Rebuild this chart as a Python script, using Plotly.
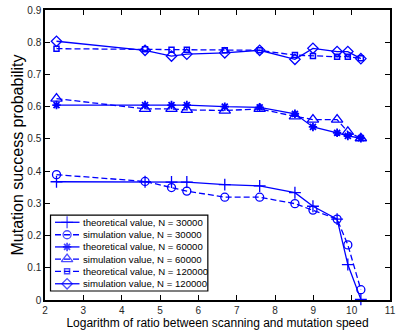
import plotly.graph_objects as go

# ---- data ----
x_vals = [2.30, 4.61, 5.30, 5.70, 6.69, 7.60, 8.52, 8.99, 9.62, 9.90, 10.24]
theo_30000 = [0.367, 0.367, 0.366, 0.366, 0.358, 0.354, 0.333, 0.291, 0.251, 0.110, 0.002]
sim_30000 = [0.389, 0.368, 0.349, 0.338, 0.319, 0.319, 0.299, 0.279, 0.251, 0.171, 0.032]
theo_60000 = [0.605, 0.605, 0.605, 0.605, 0.600, 0.598, 0.578, 0.537, 0.519, 0.509, 0.502]
sim_60000 = [0.625, 0.593, 0.593, 0.590, 0.588, 0.593, 0.570, 0.560, 0.560, 0.522, 0.502]
theo_120000 = [0.780, 0.778, 0.777, 0.777, 0.775, 0.775, 0.760, 0.757, 0.755, 0.755, 0.750]
sim_120000 = [0.803, 0.775, 0.757, 0.763, 0.767, 0.775, 0.747, 0.781, 0.771, 0.771, 0.749]

labels = [
    "theoretical value, N = 30000",
    "simulation value, N = 30000",
    "theoretical value, N = 60000",
    "simulation value, N = 60000",
    "theoretical value, N = 120000",
    "simulation value, N = 120000",
]
series = [theo_30000, sim_30000, theo_60000, sim_60000, theo_120000, sim_120000]

x_ticks = list(range(2, 12))
y_ticks = [0, 0.1, 0.2, 0.3, 0.4, 0.5, 0.6, 0.7, 0.8, 0.9]
y_ticktext = ["0", "0.1", "0.2", "0.3", "0.4", "0.5", "0.6", "0.7", "0.8", "0.9"]

# ---- styles ----
BLUE = "rgb(0,0,255)"
DASH = "6px,3px"
styles = [
    dict(dash="solid", symbol="cross-thin-open", size=8.5, lw=1.3),
    dict(dash=DASH, symbol="circle-open", size=8, lw=1.3),
    dict(dash="solid", symbol="asterisk-open", size=7, lw=1.8),
    dict(dash=DASH, symbol="triangle-up-open", size=10, lw=1.3),
    dict(dash=DASH, symbol="square-open", size=5, lw=1.5),
    dict(dash="solid", symbol="diamond-open", size=8, lw=1.3),
]
FONT = "Liberation Sans, Arial, Helvetica, sans-serif"

fig = go.Figure()
for ys, st, lab in zip(series, styles, labels):
    fig.add_trace(go.Scatter(
        x=x_vals, y=ys, mode="lines+markers", name=lab, showlegend=False,
        line=dict(color=BLUE, width=1.3, dash=st["dash"]),
        marker=dict(symbol=st["symbol"], size=st["size"], color=BLUE,
                    line=dict(color=BLUE, width=st["lw"])),
        cliponaxis=False,
    ))

# ---- manual legend (on overlay axes spanning [0,1]) ----
leg_x0, leg_x1 = 0.016, 0.472
leg_y0, leg_y1 = 0.031, 0.293
item_y = [0.268, 0.225, 0.183, 0.141, 0.099, 0.056]
samp_x = [0.029, 0.064, 0.100]
text_x = 0.105

fig.add_shape(type="rect", xref="paper", yref="paper",
              x0=leg_x0, x1=leg_x1, y0=leg_y0, y1=leg_y1,
              line=dict(color="black", width=1.2), fillcolor="white", layer="below")
for yy, st, lab in zip(item_y, styles, labels):
    fig.add_trace(go.Scatter(
        x=samp_x, y=[yy] * 3, xaxis="x2", yaxis="y2", mode="lines+markers",
        showlegend=False, hoverinfo="skip", cliponaxis=False,
        line=dict(color=BLUE, width=1.3, dash=st["dash"]),
        marker=dict(symbol=st["symbol"], size=[0, st["size"], 0], color=BLUE,
                    line=dict(color=BLUE, width=st["lw"])),
    ))
    fig.add_annotation(x=text_x, y=yy, xref="paper", yref="paper", text=lab,
                       showarrow=False, xanchor="left", yanchor="middle",
                       font=dict(size=9.6, color="black", family=FONT))

axis_common = dict(
    showgrid=False, zeroline=False, showline=True, linecolor="black", linewidth=1.5,
    mirror="ticks", ticks="inside", ticklen=5, tickwidth=1, tickcolor="black",
    tickfont=dict(size=10, color="#262626", family=FONT),
)
fig.update_layout(
    width=400, height=336,
    margin=dict(l=45, r=5, t=4, b=36),
    paper_bgcolor="white", plot_bgcolor="white",
    font=dict(family=FONT, color="black"),
    xaxis=dict(range=[2, 11], tickvals=x_ticks, ticktext=[str(v) for v in x_ticks],
               title=dict(text="Logarithm of ratio between scanning and mutation speed",
                          font=dict(size=12, color="black"), standoff=1),
               **axis_common),
    yaxis=dict(range=[0, 0.9], tickvals=y_ticks, ticktext=y_ticktext,
               title=dict(text="Mutation success probability",
                          font=dict(size=16, color="black"), standoff=0),
               **axis_common),
    xaxis2=dict(overlaying="x", range=[0, 1], visible=False, domain=[0, 1]),
    yaxis2=dict(overlaying="y", range=[0, 1], visible=False),
)

fig.write_html("out.html")
